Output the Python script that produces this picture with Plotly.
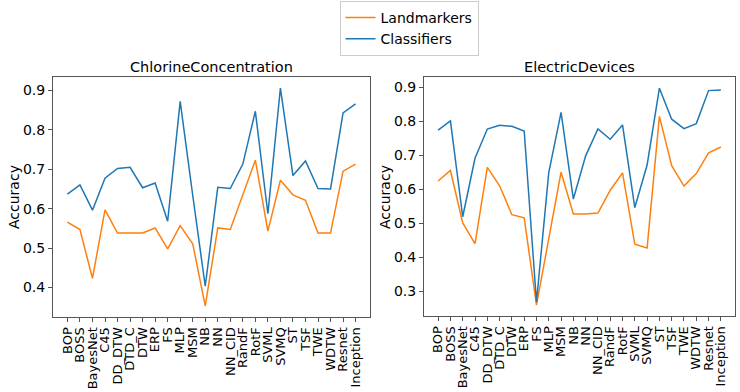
import plotly.graph_objects as go
from plotly.subplots import make_subplots

methods = ["BOP", "BOSS", "BayesNet", "C45", "DD_DTW", "DTD_C", "DTW", "ERP", "FS", "MLP",
           "MSM", "NB", "NN", "NN_CID", "RandF", "RotF", "SVML", "SVMQ", "ST", "TSF",
           "TWE", "WDTW", "Resnet", "Inception"]

chlorine_landmarkers = [0.566, 0.547, 0.423, 0.597, 0.538, 0.538, 0.538, 0.551, 0.498, 0.557,
                        0.511, 0.353, 0.551, 0.547, 0.636, 0.723, 0.543, 0.672, 0.635, 0.621,
                        0.538, 0.538, 0.695, 0.713]
chlorine_classifiers = [0.637, 0.660, 0.596, 0.677, 0.702, 0.705, 0.653, 0.665, 0.568, 0.872,
                        0.634, 0.403, 0.654, 0.651, 0.713, 0.847, 0.587, 0.906, 0.684, 0.721,
                        0.651, 0.650, 0.843, 0.866]

electric_landmarkers = [0.624, 0.655, 0.501, 0.440, 0.664, 0.610, 0.525, 0.516, 0.259, 0.456,
                        0.650, 0.527, 0.527, 0.530, 0.597, 0.648, 0.438, 0.427, 0.814, 0.669,
                        0.609, 0.646, 0.707, 0.724]
electric_classifiers = [0.774, 0.801, 0.519, 0.691, 0.777, 0.788, 0.785, 0.771, 0.268, 0.649,
                        0.826, 0.571, 0.698, 0.777, 0.747, 0.789, 0.546, 0.671, 0.897, 0.806,
                        0.778, 0.793, 0.890, 0.892]

titles = ["ChlorineConcentration", "ElectricDevices"]
ORANGE = "#ff7f0e"
BLUE = "#1f77b4"
FONT = "DejaVu Sans"

fig = make_subplots(rows=1, cols=2)

panels = [(methods, chlorine_landmarkers, chlorine_classifiers),
          (methods, electric_landmarkers, electric_classifiers)]
for i, (labels, lm, cl) in enumerate(panels):
    fig.add_trace(go.Scatter(x=labels, y=lm, mode="lines", name="Landmarkers",
                             line=dict(color=ORANGE, width=1.5), showlegend=(i == 0)),
                  row=1, col=i + 1)
    fig.add_trace(go.Scatter(x=labels, y=cl, mode="lines", name="Classifiers",
                             line=dict(color=BLUE, width=1.5), showlegend=(i == 0)),
                  row=1, col=i + 1)

W, H = 740, 392
axis_common = dict(showline=True, linecolor="#555", linewidth=1, mirror=True,
                   ticks="outside", ticklen=4, tickcolor="#555", showgrid=False,
                   zeroline=False, automargin=False)

fig.update_xaxes(**axis_common, tickangle=-90, range=[-1.15, 24.15],
                 tickmode="array", tickvals=methods, ticktext=methods,
                 tickfont=dict(family=FONT, size=13, color="black"))
fig.update_yaxes(**axis_common, tickfont=dict(family=FONT, size=14, color="black"))

fig.update_layout(
    xaxis=dict(domain=[53 / W, 370 / W]),
    xaxis2=dict(domain=[424 / W, 735 / W]),
    yaxis=dict(domain=[1 - 317 / H, 1 - 77 / H], range=[0.325, 0.934], dtick=0.1, tick0=0.4),
    yaxis2=dict(domain=[1 - 316 / H, 1 - 77 / H], range=[0.227, 0.930], dtick=0.1, tick0=0.3),
)

for i, (t, cx) in enumerate(zip(titles, [(53 + 370) / 2 / W, (424 + 735) / 2 / W])):
    fig.add_annotation(text=t, x=cx, y=1 - 67 / H, xref="paper", yref="paper",
                       xanchor="center", yanchor="middle", showarrow=False,
                       font=dict(family=FONT, size=14.5, color="black"))
for xp in [14, 385]:
    fig.add_annotation(text="Accuracy", x=xp / W, y=(1 - 197 / H), xref="paper", yref="paper",
                       xanchor="center", yanchor="middle", showarrow=False, textangle=-90,
                       font=dict(family=FONT, size=14, color="black"))

fig.update_layout(
    width=W, height=H,
    margin=dict(l=0, r=0, t=0, b=0),
    paper_bgcolor="white", plot_bgcolor="white",
    font=dict(family=FONT, size=13, color="black"),
    legend=dict(x=409 / W, y=1 - 1 / H, xanchor="center", yanchor="top",
                bordercolor="#cccccc", borderwidth=1, bgcolor="white",
                font=dict(family=FONT, size=14), tracegroupgap=0),
)

fig.write_html("out.html", config={"displayModeBar": False},
               post_script="document.body.style.margin='0';document.body.style.overflow='hidden';")
